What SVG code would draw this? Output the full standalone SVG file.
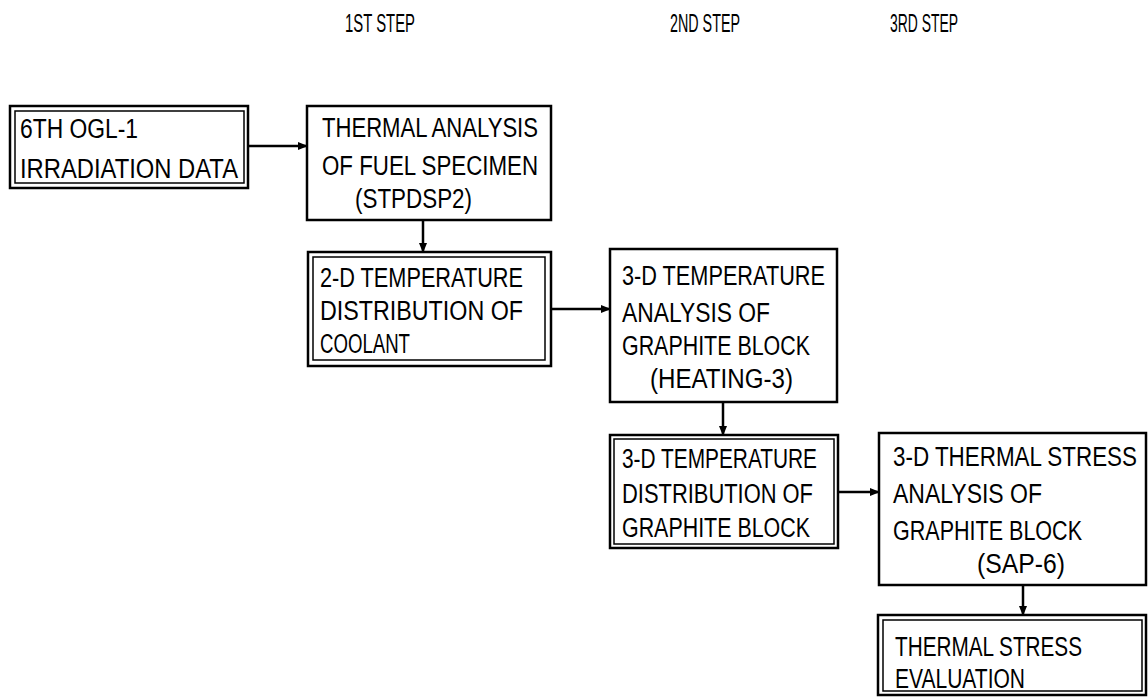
<svg xmlns="http://www.w3.org/2000/svg" width="1148" height="697" viewBox="0 0 1148 697">
<style>
.t{font-family:"Liberation Sans",Arial,sans-serif;font-size:27px;fill:#000}
.h{font-family:"Liberation Sans",Arial,sans-serif;font-size:25px;fill:#000}
.b{fill:#fff;stroke:#000;stroke-width:2.5}
.i{fill:none;stroke:#000;stroke-width:1.5}
.c{stroke:#000;stroke-width:2.5;fill:none;marker-end:url(#ah)}
</style>
<defs>
<marker id="ah" markerWidth="10" markerHeight="8" refX="9" refY="4" orient="auto" markerUnits="userSpaceOnUse">
<path d="M0,0 L10,4 L0,8 Z" fill="#000"/>
</marker>
</defs>
<rect width="1148" height="697" fill="#fff"/>
<g id="titles">
<text class="h" x="345" y="32" textLength="70" lengthAdjust="spacingAndGlyphs">1ST STEP</text>
<text class="h" x="670" y="32" textLength="70" lengthAdjust="spacingAndGlyphs">2ND STEP</text>
<text class="h" x="890" y="32" textLength="68" lengthAdjust="spacingAndGlyphs">3RD STEP</text>
</g>
<g id="connectors">
<line class="c" x1="248" y1="146" x2="307" y2="146"/>
<line class="c" x1="423" y1="220" x2="423" y2="252"/>
<line class="c" x1="551" y1="309" x2="610" y2="309"/>
<line class="c" x1="723" y1="402" x2="723" y2="435"/>
<line class="c" x1="838" y1="492" x2="879" y2="492"/>
<line class="c" x1="1023" y1="585" x2="1023" y2="615"/>
</g>
<g id="nodeA">
<rect class="b" x="10" y="106" width="238" height="82"/>
<rect class="i" x="15" y="111" width="229" height="72"/>
<text class="t" x="20" y="138" textLength="118" lengthAdjust="spacingAndGlyphs">6TH OGL-1</text>
<text class="t" x="20" y="178" textLength="218" lengthAdjust="spacingAndGlyphs">IRRADIATION DATA</text>
</g>
<g id="nodeB">
<rect class="b" x="307" y="106" width="244" height="114"/>
<text class="t" x="322" y="137" textLength="216" lengthAdjust="spacingAndGlyphs">THERMAL ANALYSIS</text>
<text class="t" x="322" y="175" textLength="216" lengthAdjust="spacingAndGlyphs">OF FUEL SPECIMEN</text>
<text class="t" x="355" y="208" textLength="117" lengthAdjust="spacingAndGlyphs">(STPDSP2)</text>
</g>
<g id="nodeC">
<rect class="b" x="308" y="252" width="243" height="114"/>
<rect class="i" x="313" y="257" width="232" height="103"/>
<text class="t" x="320" y="287" textLength="203" lengthAdjust="spacingAndGlyphs">2-D TEMPERATURE</text>
<text class="t" x="320" y="320" textLength="203" lengthAdjust="spacingAndGlyphs">DISTRIBUTION OF</text>
<text class="t" x="320" y="353" textLength="90" lengthAdjust="spacingAndGlyphs">COOLANT</text>
</g>
<g id="nodeD">
<rect class="b" x="610" y="249" width="227" height="153"/>
<text class="t" x="622" y="285" textLength="203" lengthAdjust="spacingAndGlyphs">3-D TEMPERATURE</text>
<text class="t" x="622" y="322" textLength="148" lengthAdjust="spacingAndGlyphs">ANALYSIS OF</text>
<text class="t" x="622" y="355" textLength="188" lengthAdjust="spacingAndGlyphs">GRAPHITE BLOCK</text>
<text class="t" x="650" y="388" textLength="143" lengthAdjust="spacingAndGlyphs">(HEATING-3)</text>
</g>
<g id="nodeF">
<rect class="b" x="610" y="435" width="228" height="113"/>
<rect class="i" x="614" y="439" width="220" height="105"/>
<text class="t" x="622" y="468" textLength="195" lengthAdjust="spacingAndGlyphs">3-D TEMPERATURE</text>
<text class="t" x="622" y="503" textLength="191" lengthAdjust="spacingAndGlyphs">DISTRIBUTION OF</text>
<text class="t" x="622" y="537" textLength="188" lengthAdjust="spacingAndGlyphs">GRAPHITE BLOCK</text>
</g>
<g id="nodeE">
<rect class="b" x="879" y="433" width="267" height="152"/>
<text class="t" x="893" y="466" textLength="244" lengthAdjust="spacingAndGlyphs">3-D THERMAL STRESS</text>
<text class="t" x="893" y="503" textLength="149" lengthAdjust="spacingAndGlyphs">ANALYSIS OF</text>
<text class="t" x="893" y="540" textLength="189" lengthAdjust="spacingAndGlyphs">GRAPHITE BLOCK</text>
<text class="t" x="977" y="573" textLength="88" lengthAdjust="spacingAndGlyphs">(SAP-6)</text>
</g>
<g id="nodeG">
<rect class="b" x="878" y="615" width="268" height="80"/>
<rect class="i" x="883" y="620" width="259" height="71"/>
<text class="t" x="895" y="656" textLength="187" lengthAdjust="spacingAndGlyphs">THERMAL STRESS</text>
<text class="t" x="895" y="688" textLength="130" lengthAdjust="spacingAndGlyphs">EVALUATION</text>
</g>
</svg>
